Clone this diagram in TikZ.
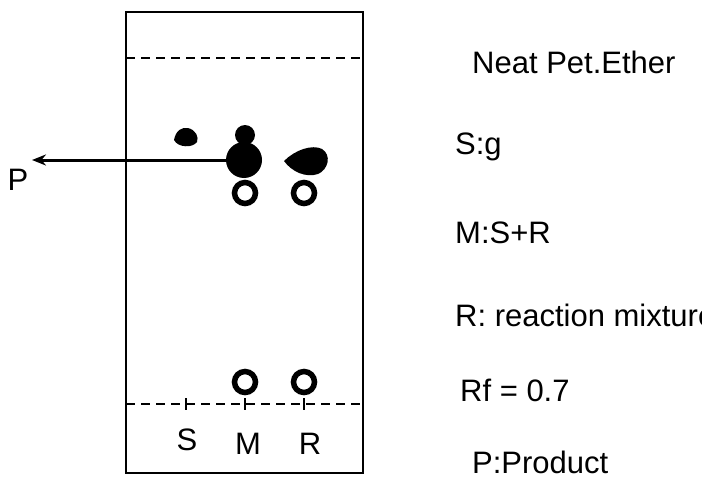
\documentclass[tikz,border=0pt]{standalone}
\usetikzlibrary{arrows.meta}
\usepackage{fontspec}
\setmainfont{Liberation Sans}
\begin{document}
\begin{tikzpicture}[x=1pt,y=-1pt,
  lbl/.style={anchor=west,inner sep=0,font=\fontsize{31}{36}\selectfont},
  ring/.style={draw,line width=5.5pt,circle,minimum size=21pt,inner sep=0},
  blob/.style={fill=black},
  dline/.style={line width=2pt,dash pattern=on 9pt off 6pt}]
\clip (0,0) rectangle (702,487);
\useasboundingbox (0,0) rectangle (702,487);
\node[draw,line width=2pt,minimum width=237pt,minimum height=461pt,inner sep=0] (plate) at (244.5,242.5) {};
\draw[dline] (126,58) -- (363,58);
\draw[dline] (126,404) -- (363,404);
\foreach \x in {186,245,304} \draw[line width=1.5pt] (\x,398) -- (\x,410);
\node[lbl,anchor=center] (ls) at (187,440) {S};
\node[lbl,anchor=center] (lm) at (248,444) {M};
\node[lbl,anchor=center] (lr) at (310,444) {R};
% spots
\fill (174,140) .. controls (176,130) and (182,127) .. (188,128) .. controls (196,130) and (199,137) .. (197,142) .. controls (193,148) and (178,148) .. (174,140) -- cycle;
\fill (245,135) circle (10);
\node[blob,circle,minimum size=36pt,inner sep=0] (big) at (244,160) {};
\fill (284,161) .. controls (295,150) and (312,144) .. (322,149) .. controls (332,155) and (328,170) .. (318,174) .. controls (306,178) and (292,172) .. (284,161) -- cycle;
\node[ring] (m1) at (245,193) {};
\node[ring] (r1) at (304,193) {};
\node[ring] (m2) at (245,382) {};
\node[ring] (r2) at (304,382) {};
\node[lbl,anchor=center] (p) at (18,180) {P};
\coordinate (pend) at (32,160);
\draw[line width=3pt,-{Stealth[length=14pt,width=11pt]}] (big.west) -- (pend);
\node[lbl] (t1) at (472,62) {Neat Pet.Ether};
\node[lbl] (t2) at (455,147) {S:g};
\node[lbl] (t3) at (455,233) {M:S+R};
\node[lbl] (t4) at (455,315) {R: reaction mixture};
\node[lbl] (t5) at (460,390) {Rf = 0.7};
\node[lbl] (t6) at (472,462) {P:Product};
\end{tikzpicture}
\end{document}
